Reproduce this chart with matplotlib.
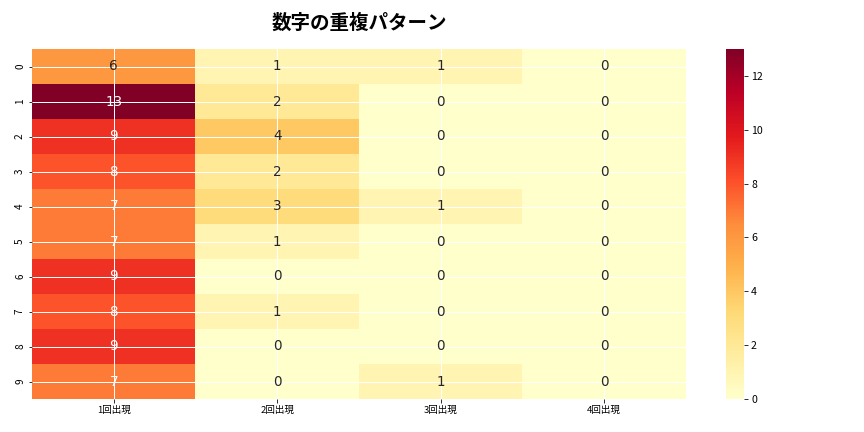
import matplotlib
matplotlib.use('Agg')
import matplotlib.pyplot as plt
import numpy as np
import pandas as pd
import seaborn as sns

columns = ['1回出現', '2回出現', '3回出現', '4回出現']
rows = list(range(10))
once = [6, 13, 9, 8, 7, 7, 9, 8, 9, 7]
twice = [1, 2, 4, 2, 3, 1, 0, 1, 0, 0]
thrice = [1, 0, 0, 0, 1, 0, 0, 0, 0, 1]
four = [0, 0, 0, 0, 0, 0, 0, 0, 0, 0]

plt.rcParams['font.family'] = ['Noto Sans CJK JP', 'DejaVu Sans']
plt.rcParams['xtick.labelsize'] = 9.5
plt.rcParams['ytick.labelsize'] = 10

df = pd.DataFrame({columns[0]: once, columns[1]: twice,
                   columns[2]: thrice, columns[3]: four}, index=rows)

fig = plt.figure(figsize=(12, 6), dpi=72)
ax = fig.add_axes([32 / 864, 1 - 399 / 432, 654 / 864, 350 / 432])
cax = fig.add_axes([726 / 864, 1 - 399 / 432, 18 / 864, 350 / 432])

sns.heatmap(df, annot=True, fmt='d', cmap='YlOrRd', ax=ax, cbar_ax=cax,
            annot_kws={'size': 13.5, 'family': 'DejaVu Sans'})
ax.grid(True, color='white', linewidth=1, zorder=3)
ax.set_axisbelow(False)
cax.tick_params(labelsize=10.5)
ax.set_title('数字の重複パターン', fontsize=19.5, fontweight='bold', pad=20)

fig.savefig('out.png', dpi=72)
